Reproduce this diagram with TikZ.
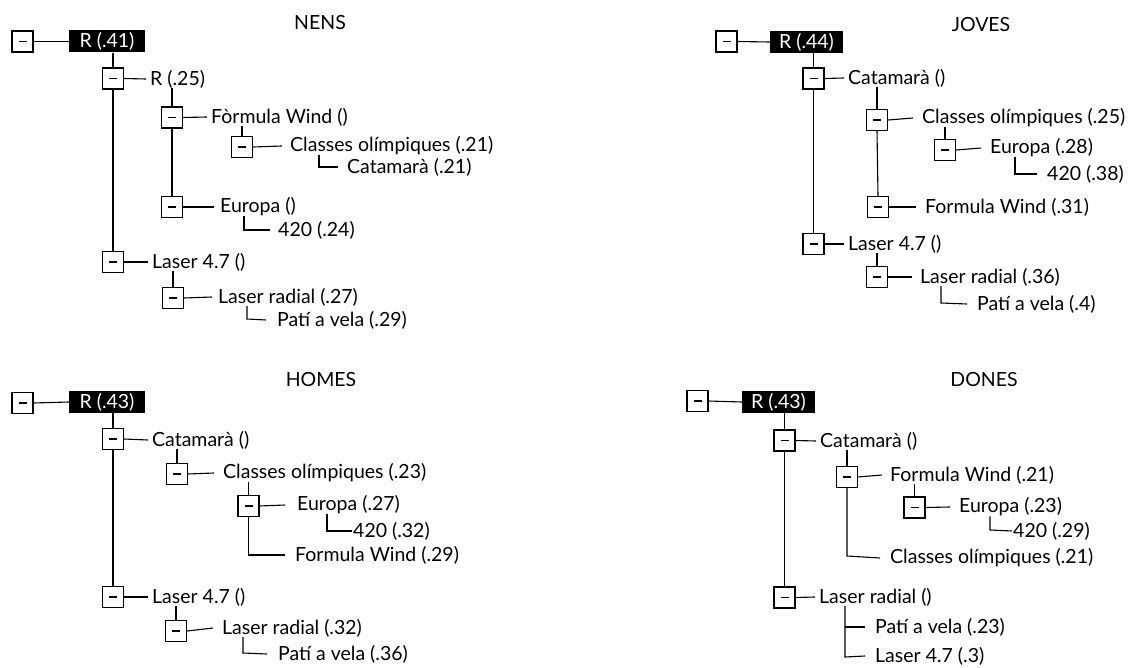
\documentclass[tikz,border=0pt]{standalone}
\usepackage{fontspec}
\setmainfont{Lato}
\begin{document}
\begin{tikzpicture}[x=1pt,y=-1pt,
  conn/.style={line width=1.1pt},
  tbox/.style={draw, line width=1.1pt, minimum width=21pt, minimum height=21pt, inner sep=0pt,
    path picture={\draw[line width=1.1pt] ([xshift=-4pt]path picture bounding box.center) -- ([xshift=4pt]path picture bounding box.center);}},
  rootbox/.style={fill=black, text=white, minimum width=76pt, minimum height=22pt, inner sep=0pt, font=\fontsize{19.5}{22}\selectfont},
  lbl/.style={anchor=west, inner sep=0pt, font=\fontsize{19.5}{22}\selectfont},
  ttl/.style={inner sep=0pt, font=\fontsize{19.5}{22}\selectfont}]
\useasboundingbox (0,0) rectangle (1145,668);

% ---------------- NENS ----------------
\node[ttl] (nT) at (320,23) {NENS};
\node[tbox] (nb0) at (22.5,41.5) {};
\node[rootbox] (nr) at (107,41.5) {R (.41)};
\node[tbox] (nb1) at (113,78.5) {};
\node[lbl] (nl1) at (150,79) {R (.25)};
\node[tbox] (nb2) at (113,262) {};
\node[lbl] (nl2) at (152,262) {Laser 4.7 ()};
\node[tbox] (nb3) at (172,117.5) {};
\node[lbl] (nl3) at (211,117) {Fòrmula Wind ()};
\node[tbox] (nb4) at (172,207) {};
\node[lbl] (nl4) at (220,207) {Europa ()};
\node[tbox] (nb5) at (242,147) {};
\node[lbl] (nl5) at (290,146) {Classes olímpiques (.21)};
\node[lbl] (nl6) at (347,167) {Catamarà (.21)};
\coordinate (nc6) at (319,167);
\node[lbl] (nl7) at (278,230) {420 (.24)};
\coordinate (nc7) at (244,230);
\node[tbox] (nb6) at (173,298) {};
\node[lbl] (nl8) at (218,297) {Laser radial (.27)};
\node[lbl] (nl9) at (277,320) {Patí a vela (.29)};
\coordinate (nc9) at (247,319);

\draw[conn] (nb0.east) -- (nr.west);
\draw[conn] (nb1.north |- nr.south) -- (nb1.north);
\draw[conn] (nb1.south) -- (nb2.north);
\draw[conn] (nb1.east) -- ([xshift=-4pt]nl1.west);
\draw[conn] (nb2.east) -- ([xshift=-4pt]nl2.west);
\draw[conn] (nb3.north |- nl1.south) -- (nb3.north);
\draw[conn] (nb3.south) -- (nb4.north);
\draw[conn] (nb3.east) -- ([xshift=-4pt]nl3.west);
\draw[conn] (nb4.east) -- ([xshift=-6pt]nl4.west);
\draw[conn] (nb5.north |- nl3.south) -- (nb5.north);
\draw[conn] (nb5.east) -- ([xshift=-8pt]nl5.west);
\draw[conn] (nc6 |- nl5.south) -- (nc6) -- ([xshift=-9pt]nl6.west);
\draw[conn] (nc7 |- nl4.south) -- (nc7) -- ([xshift=-8pt]nl7.west);
\draw[conn] (nb6.north |- nl2.south) -- (nb6.north);
\draw[conn] (nb6.east) -- ([xshift=-6pt]nl8.west);
\draw[conn] (nc9 |- nl8.south) -- (nc9) -- ([xshift=-11pt]nl9.west);

% ---------------- JOVES ----------------
\node[ttl] (jT) at (981,25) {JOVES};
\node[tbox] (jb0) at (726.5,41.5) {};
\node[rootbox, minimum width=73pt] (jr) at (806.5,42) {R (.44)};
\node[tbox] (jb1) at (813.5,78.5) {};
\node[lbl] (jl1) at (848,78) {Catamarà ()};
\node[tbox] (jb2) at (813.5,244) {};
\node[lbl] (jl2) at (848,244) {Laser 4.7 ()};
\node[tbox] (jb3) at (877,120) {};
\node[lbl] (jl3) at (922,118) {Classes olímpiques (.25)};
\node[tbox] (jb4) at (878,207) {};
\node[lbl] (jl4) at (925,207) {Formula Wind (.31)};
\node[tbox] (jb5) at (945,150) {};
\node[lbl] (jl5) at (990,148) {Europa (.28)};
\node[lbl] (jl6) at (1047,174) {420 (.38)};
\coordinate (jc6) at (1015,174);
\node[tbox] (jb6) at (877,277) {};
\node[lbl] (jl7) at (920,277) {Laser radial (.36)};
\node[lbl] (jl8) at (977,304) {Patí a vela (.4)};
\coordinate (jc8) at (941,303);

\draw[conn] (jb0.east) -- (jr.west);
\draw[conn] (jb1.north |- jr.south) -- (jb1.north);
\draw[conn] (jb1.south) -- (jb2.north);
\draw[conn] (jb1.east) -- ([xshift=-4pt]jl1.west);
\draw[conn] (jb2.east) -- ([xshift=-4pt]jl2.west);
\draw[conn] (jb3.north |- jl1.south) -- (jb3.north);
\draw[conn] (jb3.south) -- (jb4.north);
\draw[conn] (jb3.east) -- ([xshift=-9pt]jl3.west);
\draw[conn] (jb4.east) -- ([xshift=-9pt]jl4.west);
\draw[conn] (jb5.north |- jl3.south) -- (jb5.north);
\draw[conn] (jb5.east) -- ([xshift=-9pt]jl5.west);
\draw[conn] (jc6 |- jl5.south) -- (jc6) -- ([xshift=-10pt]jl6.west);
\draw[conn] (jb6.north |- jl2.south) -- (jb6.north);
\draw[conn] (jb6.east) -- ([xshift=-8pt]jl7.west);
\draw[conn] (jc8 |- jl7.south) -- (jc8) -- ([xshift=-10pt]jl8.west);

% ---------------- HOMES ----------------
\node[ttl] (hT) at (321,380) {HOMES};
\node[tbox] (hb0) at (22.5,403) {};
\node[rootbox] (hr) at (107,402) {R (.43)};
\node[tbox] (hb1) at (113,439) {};
\node[lbl] (hl1) at (152,440) {Catamarà ()};
\node[tbox] (hb2) at (113,597) {};
\node[lbl] (hl2) at (152,597) {Laser 4.7 ()};
\node[tbox] (hb3) at (177,474) {};
\node[lbl] (hl3) at (223,473) {Classes olímpiques (.23)};
\node[tbox] (hb4) at (248.5,506) {};
\node[lbl] (hl4) at (297,505) {Europa (.27)};
\node[lbl] (hl5) at (353,531) {420 (.32)};
\coordinate (hc5) at (327,531);
\node[lbl] (hl6) at (295,555) {Formula Wind (.29)};
\coordinate (hc6) at (248.5,555);
\node[tbox] (hb5) at (176,631) {};
\node[lbl] (hl7) at (222,628) {Laser radial (.32)};
\node[lbl] (hl8) at (278,654) {Patí a vela (.36)};
\coordinate (hc8) at (243,653);

\draw[conn] (hb0.east) -- (hr.west);
\draw[conn] (hb1.north |- hr.south) -- (hb1.north);
\draw[conn] (hb1.south) -- (hb2.north);
\draw[conn] (hb1.east) -- ([xshift=-4pt]hl1.west);
\draw[conn] (hb2.east) -- ([xshift=-4pt]hl2.west);
\draw[conn] (hb3.north |- hl1.south) -- (hb3.north);
\draw[conn] (hb3.east) -- ([xshift=-9pt]hl3.west);
\draw[conn] (hb4.north |- hl3.south) -- (hb4.north);
\draw[conn] (hb4.east) -- ([xshift=-12pt]hl4.west);
\draw[conn] (hc5 |- hl4.south) -- (hc5) -- ([xshift=-1pt]hl5.west);
\draw[conn] (hb4.south) -- (hc6) -- ([xshift=-10pt]hl6.west);
\draw[conn] (hb5.north |- hl2.south) -- (hb5.north);
\draw[conn] (hb5.east) -- ([xshift=-9pt]hl7.west);
\draw[conn] (hc8 |- hl7.south) -- (hc8) -- ([xshift=-11pt]hl8.west);

% ---------------- DONES ----------------
\node[ttl] (dT) at (984,380) {DONES};
\node[tbox] (db0) at (697.5,401) {};
\node[rootbox, minimum width=73pt] (dr) at (778.5,402) {R (.43)};
\node[tbox] (db1) at (784.5,440.5) {};
\node[lbl] (dl1) at (820,441) {Catamarà ()};
\node[tbox] (db2) at (784.5,597.5) {};
\node[lbl] (dl2) at (819,597) {Laser radial ()};
\node[tbox] (db3) at (847,477) {};
\node[lbl] (dl3) at (890,475) {Formula Wind (.21)};
\node[tbox] (db4) at (914.5,507.5) {};
\node[lbl] (dl4) at (959,507) {Europa (.23)};
\node[lbl] (dl5) at (1013,531) {420 (.29)};
\coordinate (dc5) at (990,530);
\node[lbl] (dl6) at (890,558) {Classes olímpiques (.21)};
\coordinate (dc6) at (847,556);
\node[lbl] (dl7) at (875,627) {Patí a vela (.23)};
\coordinate (dc7) at (845,627);
\node[lbl] (dl8) at (875,656) {Laser 4.7 (.3)};
\coordinate (dc8) at (845,657);

\draw[conn] (db0.east) -- (dr.west);
\draw[conn] (db1.north |- dr.south) -- (db1.north);
\draw[conn] (db1.south) -- (db2.north);
\draw[conn] (db1.east) -- ([xshift=-4pt]dl1.west);
\draw[conn] (db2.east) -- ([xshift=-4pt]dl2.west);
\draw[conn] (db3.north |- dl1.south) -- (db3.north);
\draw[conn] (db3.east) -- ([xshift=-8pt]dl3.west);
\draw[conn] (db4.north |- dl3.south) -- (db4.north);
\draw[conn] (db4.east) -- ([xshift=-9pt]dl4.west);
\draw[conn] (dc5 |- dl4.south) -- (dc5) -- ([xshift=-1pt]dl5.west);
\draw[conn] (db3.south) -- (dc6) -- ([xshift=-10pt]dl6.west);
\draw[conn] (dc8 |- dl2.south) -- (dc8) -- ([xshift=-10pt]dl8.west);
\draw[conn] (dc7) -- ([xshift=-10pt]dl7.west);
\end{tikzpicture}
\end{document}
